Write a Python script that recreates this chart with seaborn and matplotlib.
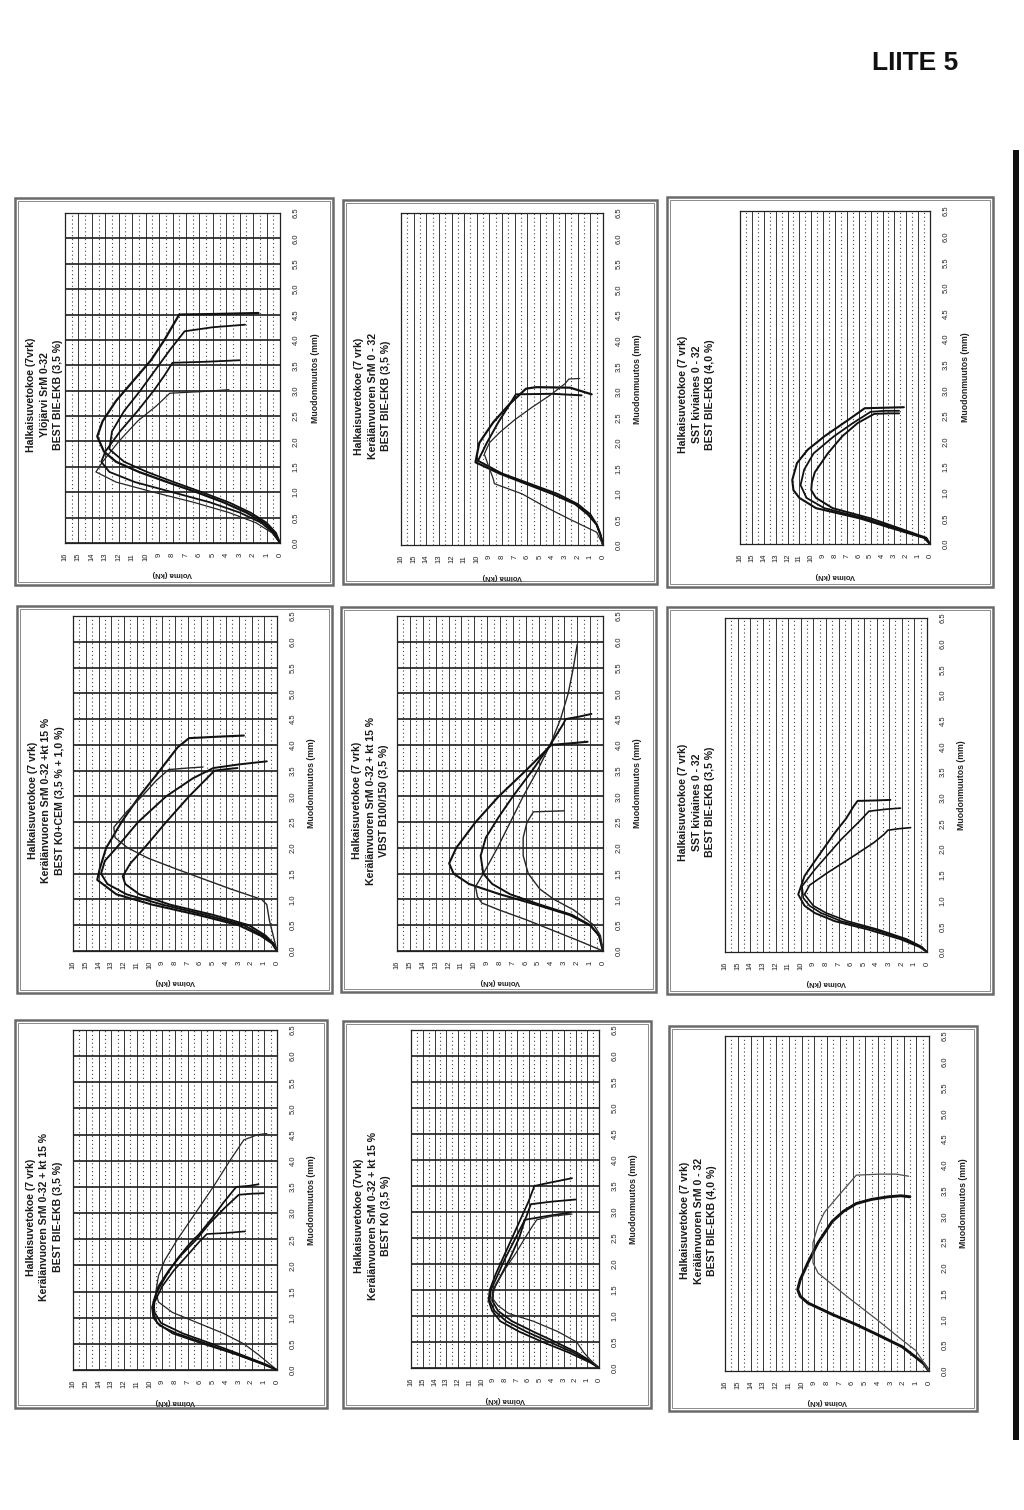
# Halkaisuvetokoe - 9 rotated force/deformation charts on one page (LIITE 5)
import matplotlib
matplotlib.use("Agg")
import matplotlib.pyplot as plt
from matplotlib.patches import Rectangle
import numpy as np
import pandas as pd
import seaborn as sns

# =============================================================================
# Data: deformation (mm) and force (kN) of each test curve
# =============================================================================

force_ticks = list(range(0, 17))
deform_ticks = [0.0, 0.5, 1.0, 1.5, 2.0, 2.5, 3.0, 3.5, 4.0, 4.5, 5.0, 5.5, 6.0, 6.5]

# A: Ylöjärvi SrM 0-32, BEST BIE-EKB (3,5 %)
a1_mm = [0.0, 0.2, 0.4, 0.6, 0.8, 1.0, 1.2, 1.4, 1.6, 2.0, 2.4, 2.7, 2.95, 2.98, 3.02]
a1_kn = [0.0, 0.6, 1.8, 3.8, 6.4, 9.4, 12.2, 13.7, 13.2, 12.0, 10.6, 9.2, 8.2, 6.0, 3.8]
a2_mm = [0.0, 0.2, 0.4, 0.6, 0.8, 1.0, 1.2, 1.4, 1.6, 1.8, 2.2, 2.6, 3.0, 3.3, 3.55, 3.57, 3.6]
a2_kn = [0.0, 0.5, 1.4, 3.0, 5.2, 8.0, 10.8, 12.7, 13.3, 13.0, 11.9, 10.6, 9.4, 8.6, 8.0, 5.5, 3.0]
a3_mm = [0.0, 0.2, 0.4, 0.6, 0.8, 1.0, 1.2, 1.4, 1.6, 1.8, 2.1, 2.4, 2.8, 3.2, 3.6, 4.0, 4.5, 4.51, 4.53]
a3_kn = [0.0, 0.4, 1.2, 2.5, 4.2, 6.2, 8.4, 10.5, 12.2, 13.1, 13.6, 13.2, 12.2, 10.9, 9.6, 8.6, 7.5, 5.0, 1.6]
a4_mm = [0.0, 0.2, 0.4, 0.6, 0.8, 1.0, 1.2, 1.4, 1.6, 1.85, 2.2, 2.6, 3.0, 3.4, 3.8, 4.17, 4.25, 4.3]
a4_kn = [0.0, 0.3, 1.0, 2.2, 3.8, 5.8, 7.9, 9.9, 11.6, 12.7, 12.5, 11.6, 10.4, 9.3, 8.2, 7.1, 5.0, 2.6]

# B: Kerälänvuoren SrM 0 - 32, BEST BIE-EKB (3,5 %)
b1_mm = [0.0, 0.2, 0.4, 0.6, 0.8, 1.0, 1.2, 1.4, 1.62, 2.0, 2.4, 2.76, 3.06, 3.09, 3.08, 2.95]
b1_kn = [0.0, 0.2, 0.5, 1.2, 2.2, 4.0, 6.1, 8.2, 10.1, 9.8, 8.7, 7.4, 6.1, 5.3, 2.6, 0.9]
b2_mm = [0.0, 0.2, 0.4, 0.6, 0.8, 1.0, 1.2, 1.4, 1.65, 2.0, 2.4, 2.75, 2.95, 2.96, 2.93]
b2_kn = [0.0, 0.2, 0.5, 1.0, 2.0, 3.6, 5.8, 8.0, 9.9, 9.2, 8.3, 7.4, 6.9, 4.0, 1.7]
b3_mm = [0.0, 0.25, 0.5, 0.75, 1.0, 1.2, 1.3, 1.5, 1.78, 2.0, 2.2, 2.45, 2.7, 2.93, 3.16, 3.25, 3.26]
b3_kn = [0.0, 0.5, 2.6, 4.6, 6.4, 8.6, 8.7, 9.0, 9.4, 9.0, 8.2, 7.0, 5.6, 4.2, 3.0, 2.7, 1.85]

# C: SST kiviaines 0 - 32, BEST BIE-EKB (4,0 %)
c1_mm = [0.0, 0.12, 0.3, 0.5, 0.7, 0.9, 1.05, 1.25, 1.58, 1.84, 2.1, 2.42, 2.65, 2.66, 2.67]
c1_kn = [0.0, 0.5, 3.1, 5.9, 9.6, 11.0, 11.5, 11.6, 11.2, 10.3, 8.9, 6.9, 5.5, 3.8, 2.2]
c2_mm = [0.0, 0.12, 0.3, 0.5, 0.7, 0.9, 1.15, 1.45, 1.77, 2.1, 2.36, 2.58, 2.6, 2.6]
c2_kn = [0.0, 0.4, 2.8, 5.5, 8.9, 10.4, 10.9, 10.6, 9.8, 8.1, 6.5, 5.0, 3.8, 2.6]
c3_mm = [0.0, 0.12, 0.3, 0.5, 0.7, 0.9, 1.05, 1.2, 1.4, 1.77, 2.1, 2.36, 2.54, 2.55, 2.55]
c3_kn = [0.0, 0.3, 2.5, 5.0, 8.2, 9.6, 10.0, 9.95, 9.7, 8.6, 7.4, 6.1, 4.7, 3.5, 2.6]

# D: Kerälänvuoren SrM 0-32 +kt 15 %, BEST K0+CEM (3,5 % + 1,0 %)
d1_mm = [0.0, 0.15, 0.3, 0.5, 0.7, 0.9, 1.1, 1.38, 1.6, 2.0, 2.5, 3.0, 3.5, 3.95, 4.13, 4.16, 4.18]
d1_kn = [0.0, 0.4, 1.3, 3.0, 6.2, 9.8, 12.6, 14.1, 13.9, 13.4, 12.2, 10.8, 9.2, 7.8, 6.9, 4.5, 2.6]
d2_mm = [0.0, 0.15, 0.3, 0.5, 0.7, 0.9, 1.1, 1.3, 1.5, 1.75, 2.0, 2.5, 3.0, 3.35, 3.55, 3.62, 3.68]
d2_kn = [0.0, 0.3, 1.1, 2.6, 5.6, 9.0, 11.8, 13.3, 13.8, 13.5, 12.6, 10.9, 8.7, 6.6, 5.0, 3.0, 0.8]
d3_mm = [0.0, 0.15, 0.3, 0.5, 0.7, 0.9, 1.1, 1.3, 1.45, 1.7, 2.0, 2.5, 3.0, 3.3, 3.5, 3.53, 3.55]
d3_kn = [0.0, 0.3, 0.9, 2.2, 5.0, 8.4, 10.8, 11.9, 12.1, 11.5, 10.4, 8.7, 6.9, 5.7, 4.9, 3.9, 3.1]
d4_mm = [0.0, 0.3, 0.6, 0.9, 1.0, 1.2, 1.4, 1.6, 1.8, 2.0, 2.2, 2.4, 2.7, 3.0, 3.3, 3.52, 3.55, 3.57]
d4_kn = [0.0, 0.3, 0.6, 0.8, 1.2, 3.6, 5.8, 8.0, 10.1, 11.7, 12.7, 12.8, 11.8, 10.6, 9.5, 8.5, 7.0, 5.8]

# E: Kerälänvuoren SrM 0-32 + kt 15 %, VBST B100/150 (3,5 %)
e1_mm = [0.0, 0.3, 0.5, 0.7, 0.9, 1.1, 1.3, 1.5, 1.7, 2.0, 2.5, 3.0, 3.5, 3.8, 4.0, 4.03, 4.06]
e1_kn = [0.0, 0.3, 1.0, 2.6, 5.2, 8.0, 10.4, 11.6, 11.95, 11.4, 9.9, 8.1, 6.0, 4.8, 4.0, 2.5, 1.2]
e2_mm = [0.0, 0.2, 0.4, 0.6, 0.8, 0.93, 1.05, 1.25, 1.5, 2.0, 2.5, 3.0, 3.5, 4.0, 4.5, 5.0, 5.5, 5.95]
e2_kn = [0.0, 1.9, 3.9, 5.9, 8.1, 9.4, 9.75, 9.9, 9.3, 8.2, 7.2, 6.2, 5.1, 4.1, 3.3, 2.7, 2.3, 2.0]
e3_mm = [0.0, 0.3, 0.5, 0.7, 0.9, 1.1, 1.3, 1.5, 1.85, 2.2, 2.6, 3.0, 3.5, 4.0, 4.4, 4.5, 4.55, 4.6]
e3_kn = [0.0, 0.3, 1.0, 2.4, 4.9, 7.2, 8.6, 9.3, 9.5, 9.1, 8.1, 7.0, 5.5, 4.1, 3.1, 2.9, 1.8, 0.9]
e4_mm = [0.0, 0.3, 0.5, 0.8, 1.0, 1.2, 1.5, 1.85, 2.2, 2.5, 2.7, 2.71, 2.72]
e4_kn = [0.0, 0.2, 0.7, 2.3, 3.8, 4.9, 5.8, 6.2, 6.2, 5.9, 5.4, 4.2, 3.0]

# F: SST kiviaines 0 - 32, BEST BIE-EKB (3,5 %)
f1_mm = [0.0, 0.1, 0.25, 0.44, 0.6, 0.76, 0.9, 1.12, 1.48, 1.87, 2.32, 2.6, 2.84, 2.94, 2.95, 2.96]
f1_kn = [0.0, 0.6, 2.1, 4.7, 7.3, 8.9, 9.7, 10.2, 9.7, 8.6, 7.3, 6.4, 5.8, 5.5, 4.0, 2.9]
f2_mm = [0.0, 0.1, 0.25, 0.44, 0.6, 0.76, 0.9, 1.05, 1.28, 1.6, 2.19, 2.58, 2.74, 2.78, 2.8]
f2_kn = [0.0, 0.5, 1.8, 4.2, 6.8, 8.4, 9.3, 9.8, 9.9, 8.9, 6.8, 5.2, 4.6, 3.2, 2.1]
f3_mm = [0.0, 0.1, 0.25, 0.44, 0.6, 0.76, 0.9, 1.12, 1.3, 1.54, 1.87, 2.13, 2.29, 2.37, 2.4, 2.42]
f3_kn = [0.0, 0.4, 1.6, 3.9, 6.3, 8.0, 9.0, 9.7, 9.3, 7.9, 5.8, 4.2, 3.4, 3.1, 2.2, 1.3]

# G: Kerälänvuoren SrM 0-32 + kt 15 %, BEST BIE-EKB (3,5 %)
g1_mm = [0.0, 0.1, 0.3, 0.5, 0.7, 0.9, 1.1, 1.3, 1.5, 1.8, 2.1, 2.5, 3.0, 3.5, 4.0, 4.4, 4.5, 4.52]
g1_kn = [0.0, 0.5, 1.5, 2.6, 4.2, 6.2, 8.2, 9.3, 9.5, 9.3, 8.8, 7.8, 6.4, 5.0, 3.7, 2.6, 1.5, 0.8]
g2_mm = [0.0, 0.1, 0.3, 0.5, 0.7, 0.85, 1.0, 1.2, 1.5, 1.8, 2.1, 2.4, 2.6, 2.9, 3.2, 3.5, 3.52, 3.55]
g2_kn = [0.0, 1.0, 3.2, 5.5, 7.9, 9.2, 9.7, 9.8, 9.4, 8.7, 7.9, 6.9, 6.1, 5.1, 4.2, 3.2, 2.2, 1.45]
g3_mm = [0.0, 0.1, 0.3, 0.5, 0.7, 0.9, 1.1, 1.3, 1.6, 1.9, 2.2, 2.5, 2.8, 3.1, 3.35, 3.37, 3.38]
g3_kn = [0.0, 0.8, 2.9, 5.1, 7.4, 9.1, 9.6, 9.7, 9.3, 8.5, 7.5, 6.3, 5.3, 4.1, 3.0, 2.0, 1.05]
g4_mm = [0.0, 0.1, 0.3, 0.5, 0.7, 0.9, 1.1, 1.3, 1.6, 1.9, 2.2, 2.45, 2.6, 2.62, 2.65]
g4_kn = [0.0, 0.9, 3.2, 5.8, 8.2, 9.4, 9.7, 9.6, 9.0, 8.1, 7.0, 6.1, 5.5, 4.0, 2.5]

# H: Kerälänvuoren SrM 0-32 + kt 15 %, BEST K0 (3,5 %)
h1_mm = [0.0, 0.1, 0.3, 0.5, 0.7, 0.9, 1.1, 1.3, 1.5, 1.8, 2.1, 2.5, 2.9, 3.2, 3.5, 3.55, 3.65]
h1_kn = [0.0, 0.7, 2.6, 4.8, 6.8, 8.4, 9.1, 9.4, 9.3, 8.8, 8.2, 7.4, 6.6, 6.0, 5.5, 4.5, 2.3]
h2_mm = [0.0, 0.1, 0.3, 0.5, 0.7, 0.9, 1.1, 1.3, 1.5, 1.8, 2.1, 2.5, 2.9, 3.15, 3.2, 3.24]
h2_kn = [0.0, 0.6, 2.2, 4.2, 6.2, 7.9, 8.9, 9.3, 9.2, 8.6, 8.0, 7.1, 6.2, 5.8, 4.0, 2.0]
h3_mm = [0.0, 0.1, 0.3, 0.5, 0.7, 0.9, 1.1, 1.3, 1.5, 1.8, 2.1, 2.5, 2.85, 2.92, 2.99]
h3_kn = [0.0, 0.5, 1.9, 3.7, 5.6, 7.4, 8.6, 9.1, 9.0, 8.3, 7.6, 6.8, 6.3, 4.5, 2.4]
h4_mm = [0.0, 0.1, 0.3, 0.5, 0.7, 0.9, 1.05, 1.2, 1.35, 1.6, 1.9, 2.2, 2.5, 2.75, 2.85, 2.92, 2.96]
h4_kn = [0.0, 0.5, 1.3, 1.9, 3.5, 5.6, 7.7, 8.6, 9.1, 8.8, 8.0, 7.1, 6.3, 5.6, 5.3, 4.0, 2.3]

# I: Kerälänvuoren SrM 0 - 32, BEST BIE-EKB (4,0 %)
i1_mm = [0.0, 0.14, 0.27, 0.47, 0.7, 0.9, 1.1, 1.32, 1.45, 1.58, 1.77, 2.1, 2.49, 2.9, 3.1, 3.25, 3.33, 3.38, 3.4, 3.38]
i1_kn = [0.0, 0.4, 1.05, 2.1, 4.0, 5.7, 7.6, 9.5, 10.1, 10.3, 10.1, 9.5, 8.7, 7.6, 6.7, 5.7, 4.5, 3.2, 2.2, 1.5]
i2_mm = [0.0, 0.2, 0.4, 0.6, 1.0, 1.4, 1.7, 1.9, 2.1, 2.49, 2.82, 3.08, 3.4, 3.8, 3.82, 3.82, 3.78]
i2_kn = [0.0, 0.5, 1.05, 2.1, 4.1, 6.2, 7.7, 8.7, 9.1, 9.1, 8.7, 8.2, 7.1, 5.7, 3.8, 2.6, 1.6]

# =============================================================================
# Page layout (pixel coordinates on the 1024 x 1510 page, y downwards)
# =============================================================================

PAGE_W, PAGE_H = 1024, 1510
DARK, MID, LIGHT = '#111111', '#262626', '#505050'

panels = [
    dict(title=['Halkaisuvetokoe (7vrk)', 'Ylöjärvi SrM 0-32', 'BEST BIE-EKB (3,5 %)'],
         frame=(15, 198, 333, 585), plot=(65, 213, 280, 543), hgrid=True,
         curves=[(a1_mm, a1_kn, 0.9, MID), (a2_mm, a2_kn, 1.3, DARK),
                 (a3_mm, a3_kn, 1.6, DARK), (a4_mm, a4_kn, 1.3, DARK)]),
    dict(title=['Halkaisuvetokoe (7 vrk)', 'Kerälänvuoren SrM 0 - 32', 'BEST BIE-EKB (3,5 %)'],
         frame=(343, 200, 657, 584), plot=(401, 213, 603, 545), hgrid=False,
         curves=[(b1_mm, b1_kn, 1.6, DARK), (b2_mm, b2_kn, 1.4, DARK), (b3_mm, b3_kn, 0.9, MID)]),
    dict(title=['Halkaisuvetokoe (7 vrk)', 'SST kiviaines 0 - 32', 'BEST BIE-EKB (4,0 %)'],
         frame=(667, 197, 993, 587), plot=(740, 211, 930, 544), hgrid=False,
         curves=[(c1_mm, c1_kn, 1.5, DARK), (c2_mm, c2_kn, 1.3, DARK), (c3_mm, c3_kn, 1.4, DARK)]),
    dict(title=['Halkaisuvetokoe (7 vrk)', 'Kerälänvuoren SrM 0-32 +kt 15 %', 'BEST K0+CEM (3,5 % + 1,0 %)'],
         frame=(17, 606, 332, 993), plot=(73, 616, 277, 951), hgrid=True,
         curves=[(d1_mm, d1_kn, 1.5, DARK), (d2_mm, d2_kn, 1.4, DARK),
                 (d3_mm, d3_kn, 1.4, DARK), (d4_mm, d4_kn, 1.0, MID)]),
    dict(title=['Halkaisuvetokoe (7 vrk)', 'Kerälänvuoren SrM 0-32 + kt 15 %', 'VBST B100/150 (3,5 %)'],
         frame=(341, 607, 656, 992), plot=(397, 616, 603, 951), hgrid=True,
         curves=[(e1_mm, e1_kn, 1.5, DARK), (e2_mm, e2_kn, 1.0, MID),
                 (e3_mm, e3_kn, 1.4, DARK), (e4_mm, e4_kn, 1.0, MID)]),
    dict(title=['Halkaisuvetokoe (7 vrk)', 'SST kiviaines 0 - 32', 'BEST BIE-EKB (3,5 %)'],
         frame=(667, 607, 993, 994), plot=(725, 618, 927, 952), hgrid=False,
         curves=[(f1_mm, f1_kn, 1.4, DARK), (f2_mm, f2_kn, 1.2, DARK), (f3_mm, f3_kn, 1.2, DARK)]),
    dict(title=['Halkaisuvetokoe (7 vrk)', 'Kerälänvuoren SrM 0-32 + kt 15 %', 'BEST BIE-EKB (3,5 %)'],
         frame=(15, 1020, 327, 1408), plot=(73, 1030, 277, 1370), hgrid=True,
         curves=[(g1_mm, g1_kn, 0.9, MID), (g2_mm, g2_kn, 1.3, DARK),
                 (g3_mm, g3_kn, 1.3, DARK), (g4_mm, g4_kn, 1.2, DARK)]),
    dict(title=['Halkaisuvetokoe (7vrk)', 'Kerälänvuoren SrM 0-32 + kt 15 %', 'BEST K0 (3,5 %)'],
         frame=(343, 1021, 651, 1408), plot=(411, 1030, 599, 1368), hgrid=True,
         curves=[(h1_mm, h1_kn, 1.3, DARK), (h2_mm, h2_kn, 1.3, DARK),
                 (h3_mm, h3_kn, 1.3, DARK), (h4_mm, h4_kn, 0.9, MID)]),
    dict(title=['Halkaisuvetokoe (7 vrk)', 'Kerälänvuoren SrM 0 - 32', 'BEST BIE-EKB (4,0 %)'],
         frame=(669, 1026, 977, 1411), plot=(725, 1036, 929, 1371), hgrid=False,
         curves=[(i1_mm, i1_kn, 2.1, DARK), (i2_mm, i2_kn, 0.9, LIGHT)]),
]

sns.set_theme(style="white")
plt.rcParams['font.family'] = ['Liberation Sans', 'DejaVu Sans']

fig = plt.figure(figsize=(PAGE_W / 100, PAGE_H / 100), dpi=100)
fig.patch.set_facecolor('white')


def fx(x):
    return x / PAGE_W


def fy(y):
    return 1 - y / PAGE_H


def page_rect(l, t, r, b, **kw):
    fig.patches.append(Rectangle((fx(l), fy(b)), fx(r) - fx(l), fy(t) - fy(b),
                                 transform=fig.transFigure, **kw))


def draw_panel(p):
    fl, ft, fr, fb = p['frame']
    # double frame line around each chart
    page_rect(fl, ft, fr, fb, fill=False, lw=1.8, ec='#6a6a6a')
    page_rect(fl + 3, ft + 3, fr - 3, fb - 3, fill=False, lw=0.7, ec='#8a8a8a')

    pl, pt, pr, pb = p['plot']
    ax = fig.add_axes([fx(pl), fy(pb), (pr - pl) / PAGE_W, (pb - pt) / PAGE_H])

    # the chart is turned a quarter turn: force runs right-to-left, deformation upwards
    for mm, kn, lw, col in p['curves']:
        df = pd.DataFrame({'kn': kn, 'mm': mm})
        sns.lineplot(data=df, x='kn', y='mm', sort=False, estimator=None,
                     ax=ax, color=col, linewidth=lw)

    ax.set_xlim(16, 0)
    ax.set_ylim(0, 6.5)
    ax.set_xticks(force_ticks)
    ax.set_xticklabels([str(t) for t in force_ticks], rotation=90)
    ax.set_xticks(np.arange(0.5, 16, 1.0), minor=True)
    ax.set_yticks(deform_ticks)
    ax.set_yticklabels([f'{t:.1f}' for t in deform_ticks], rotation=90, va='center')
    ax.yaxis.tick_right()
    ax.tick_params(axis='both', which='both', length=0, labelsize=5.5, labelcolor='#222')
    ax.tick_params(axis='x', pad=7)
    ax.tick_params(axis='y', pad=9)
    ax.set_xlabel('')
    ax.set_ylabel('')

    ax.grid(which='major', axis='x', color='#2a2a2a', lw=0.65)
    ax.grid(which='minor', axis='x', color='#444', lw=0.8, ls=(0, (1, 2.5)))
    if p['hgrid']:
        ax.grid(which='major', axis='y', color='#1e1e1e', lw=1.2)
    ax.set_axisbelow(True)
    for s in ax.spines.values():
        s.set_color('#222')
        s.set_linewidth(0.9)

    # titles (rotated, read bottom to top)
    cy = (pt + pb) / 2 + 17
    for k, line in enumerate(p['title']):
        fig.text(fx(fl + 16 + k * 13.5), fy(cy), line, rotation=90, ha='center', va='center',
                 fontsize=7.6, fontweight='bold', color='#1a1a1a')

    fig.text(fx(pr + 35), fy((pt + pb) / 2), 'Muodonmuutos (mm)', rotation=90,
             ha='center', va='center', fontsize=6.3, fontweight='bold', color='#222')
    fig.text(fx((pl + pr) / 2), fy(pb + 31), 'Voima (kN)', rotation=180,
             ha='center', va='center', fontsize=5.5, fontweight='bold', color='#222')


for p in panels:
    draw_panel(p)

fig.text(fx(915), fy(63), 'LIITE 5', ha='center', va='center',
         fontsize=19, fontweight='bold', color='#111')

# dark scan edge on the right side of the page
page_rect(1013, 150, 1019, 1440, fill=True, lw=0, fc='#111')

fig.savefig('out.png', dpi=100, facecolor='white')
